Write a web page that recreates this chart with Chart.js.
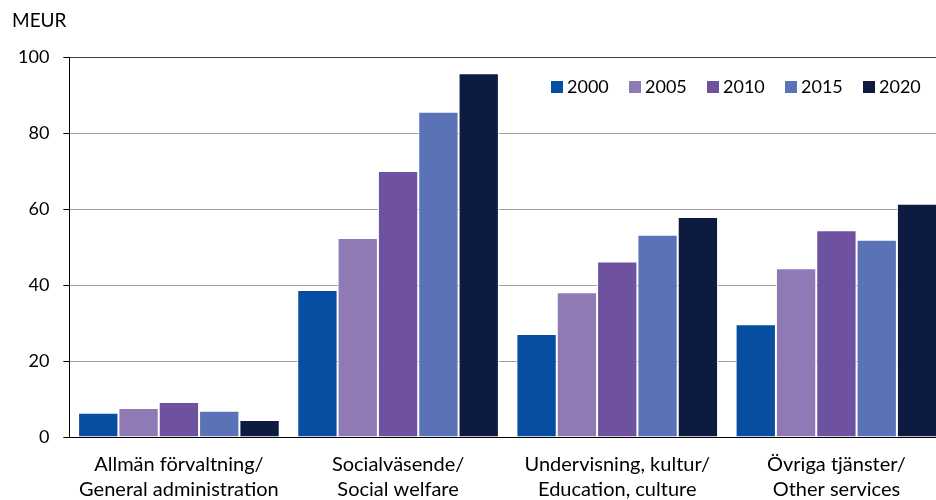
<!DOCTYPE html>
<html>
<head>
<meta charset="utf-8">
<script src="https://cdn.jsdelivr.net/npm/chart.js@4/dist/chart.umd.min.js"></script>
<style>
html, body { margin: 0; padding: 0; background: #fff; overflow: hidden; }
#wrap { position: relative; width: 946px; height: 518px; }
#unit { position: absolute; left: 12px; top: 8px; font: 19px Lato, sans-serif; color: #000; }
</style>
</head>
<body>
<div id="wrap">
  <div id="unit">MEUR</div>
  <canvas id="chart"></canvas>
</div>
<script>
// categories (two-line labels)
const categories = [
    ['Allmän förvaltning/', 'General administration'],
    ['Socialväsende/', 'Social welfare'],
    ['Undervisning, kultur/', 'Education, culture'],
    ['Övriga tjänster/', 'Other services']
];
const years = ['2000', '2005', '2010', '2015', '2020'];

// values, MEUR
const v2000 = [6.4, 38.7, 27.1, 29.7];
const v2005 = [7.6, 52.4, 38.1, 44.4];
const v2010 = [9.2, 70.0, 46.2, 54.4];
const v2015 = [6.9, 85.6, 53.2, 51.9];
const v2020 = [4.5, 95.7, 57.9, 61.4];

const yTicks = [0, 20, 40, 60, 80, 100];

const colors = ['#064ea2', '#8f7ab6', '#6e52a0', '#5a73b6', '#0d1b40'];
const series = [v2000, v2005, v2010, v2015, v2020];

const FONT = 'Lato, sans-serif';

/* =========================
   Legend drawn inside the plot
========================= */
const insideLegend = {
    id: 'insideLegend',
    afterDraw(chart) {
        const ctx = chart.ctx;
        let x = 551;
        const y = 87;
        ctx.save();
        ctx.font = '18px ' + FONT;
        ctx.textBaseline = 'middle';
        chart.data.datasets.forEach(ds => {
            ctx.fillStyle = ds.backgroundColor;
            ctx.fillRect(x, y - 6, 12, 12);
            ctx.fillStyle = '#000';
            ctx.fillText(ds.label, x + 16, y);
            x += 78;
        });
        ctx.restore();
    }
};

const ctx = document.getElementById('chart').getContext('2d');

new Chart(ctx, {
    type: 'bar',
    data: {
        labels: categories,
        datasets: years.map((y, i) => ({
            label: y,
            data: series[i],
            backgroundColor: colors[i],
            borderColor: '#ffffff',
            borderWidth: 1,
            borderSkipped: 'bottom',
            categoryPercentage: 0.92,
            barPercentage: 1
        }))
    },
    options: {
        responsive: true,
        maintainAspectRatio: false,
        animation: false,
        layout: {
            padding: { top: 57, left: 4, right: 0, bottom: 0 }
        },
        plugins: {
            legend: { display: false },
            tooltip: { enabled: false }
        },
        scales: {
            x: {
                grid: { display: false, drawTicks: false },
                border: { display: true, color: '#000', width: 1 },
                ticks: {
                    color: '#000',
                    font: { family: FONT, size: 20, lineHeight: 1.25 },
                    padding: 15.5,
                    maxRotation: 0
                }
            },
            y: {
                min: 0,
                max: 100,
                afterBuildTicks: axis => {
                    axis.ticks = yTicks.map(v => ({ value: v }));
                },
                grid: {
                    color: c => (c.tick && c.tick.value === 100) ? '#404040' : '#a0a0a0',
                    lineWidth: 1,
                    tickLength: 6,
                    tickColor: '#000'
                },
                border: { display: true, color: '#000', width: 1 },
                ticks: {
                    color: '#000',
                    font: { family: FONT, size: 18 },
                    padding: 14
                }
            }
        }
    },
    plugins: [insideLegend]
});
</script>
</body>
</html>
